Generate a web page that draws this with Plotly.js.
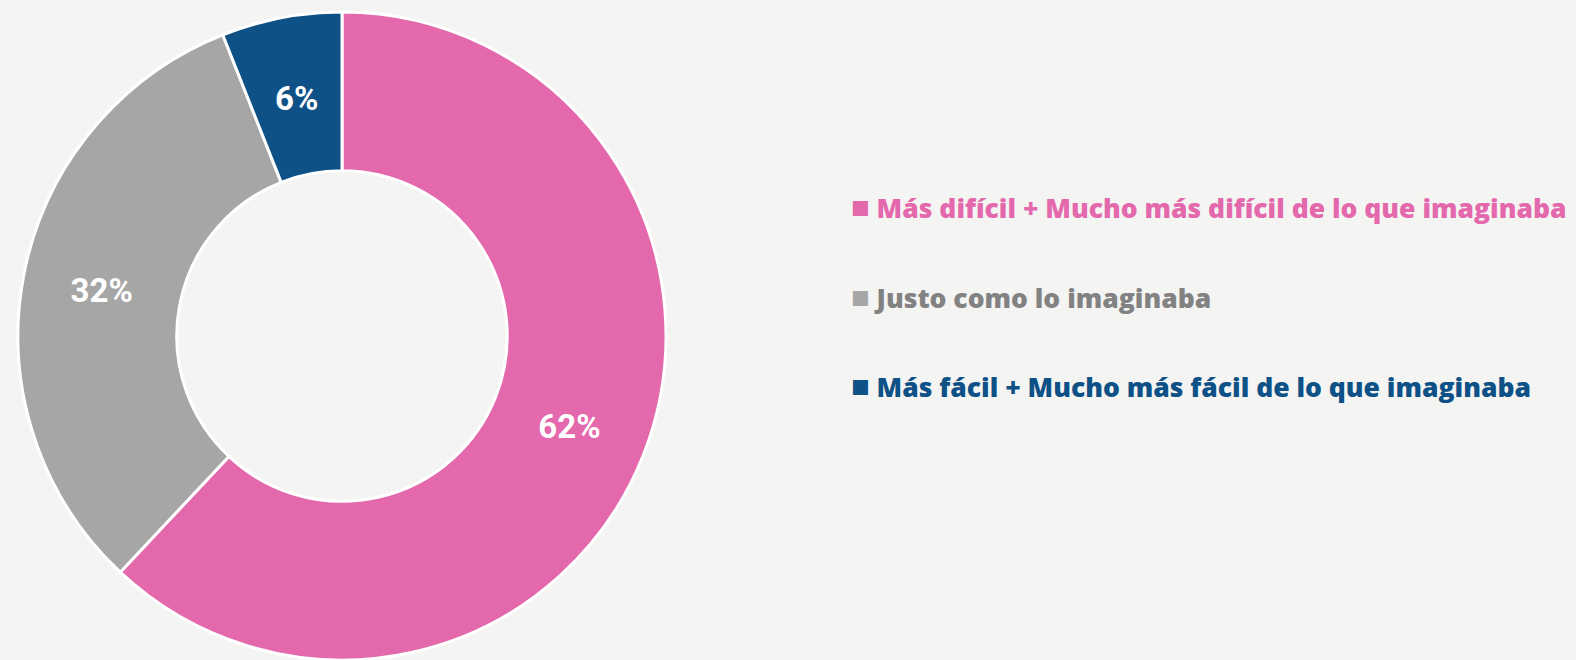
<!DOCTYPE html>
<html>
<head>
<meta charset="utf-8">
<script src="https://cdn.plot.ly/plotly-3.0.1.min.js"></script>
<style>
html,body{margin:0;padding:0;background:#F4F4F3;}
#chart{width:1576px;height:660px;}
</style>
</head>
<body>
<div id="chart"></div>
<script>
// Data
const labels = [
  "Más difícil + Mucho más difícil de lo que imaginaba",
  "Justo como lo imaginaba",
  "Más fácil + Mucho más fácil de lo que imaginaba"
];
const values = [62, 32, 6];
const sliceColors = ["#E468AC", "#A6A6A6", "#0D5186"];
const legendTextColors = ["#E468AC", "#828282", "#0D5186"];
const legendY = [0.701, 0.562, 0.424];

// geometry of the donut (pixels)
const W = 1576, H = 660, MT = 12;
const cx = 342, R = 324;
const plotH = H - MT;

const labelFont = {family: "Roboto, sans-serif", size: 33, color: "#FFFFFF", weight: 700};

const mainPie = {
  type: "pie",
  labels: labels,
  values: values,
  hole: 0.51,
  sort: false,
  direction: "clockwise",
  rotation: 0,
  marker: {colors: sliceColors, line: {color: "#FFFFFF", width: 3}},
  texttemplate: ["%{value}%", "%{value}%", ""],
  textposition: "inside",
  insidetextorientation: "horizontal",
  textfont: labelFont,
  domain: {x: [(cx - R) / W, (cx + R) / W], y: [0, 1]},
  showlegend: false,
  hoverinfo: "label+percent"
};

// transparent overlay carrying the label of the narrow slice so it sits mid-ring
const R2 = 287;
const overlayPie = {
  type: "pie",
  labels: labels,
  values: values,
  hole: 0.6,
  sort: false,
  direction: "clockwise",
  rotation: 0,
  marker: {colors: ["rgba(0,0,0,0)", "rgba(0,0,0,0)", "rgba(0,0,0,0)"], line: {width: 0}},
  texttemplate: ["", "", "%{value}%"],
  textposition: "inside",
  insidetextorientation: "horizontal",
  textfont: labelFont,
  domain: {x: [(cx - R2) / W, (cx + R2) / W], y: [0.5 - R2 / plotH, 0.5 + R2 / plotH]},
  showlegend: false,
  hoverinfo: "skip"
};

const annotations = labels.map((lab, i) => ({
  xref: "paper", yref: "paper",
  x: 849 / W, y: legendY[i],
  xanchor: "left", yanchor: "middle",
  showarrow: false,
  align: "left",
  text: '<span style="color:' + sliceColors[i] + ';font-size:31px">■</span>&nbsp;' + lab,
  font: {family: "Open Sans, sans-serif", size: 26.5, color: legendTextColors[i], weight: 800}
}));

const layout = {
  width: W, height: H,
  margin: {l: 0, r: 0, t: MT, b: 0},
  paper_bgcolor: "#F4F4F3",
  plot_bgcolor: "#F4F4F3",
  showlegend: false,
  annotations: annotations
};

Plotly.newPlot("chart", [mainPie, overlayPie], layout, {displayModeBar: false, staticPlot: true});
</script>
</body>
</html>
